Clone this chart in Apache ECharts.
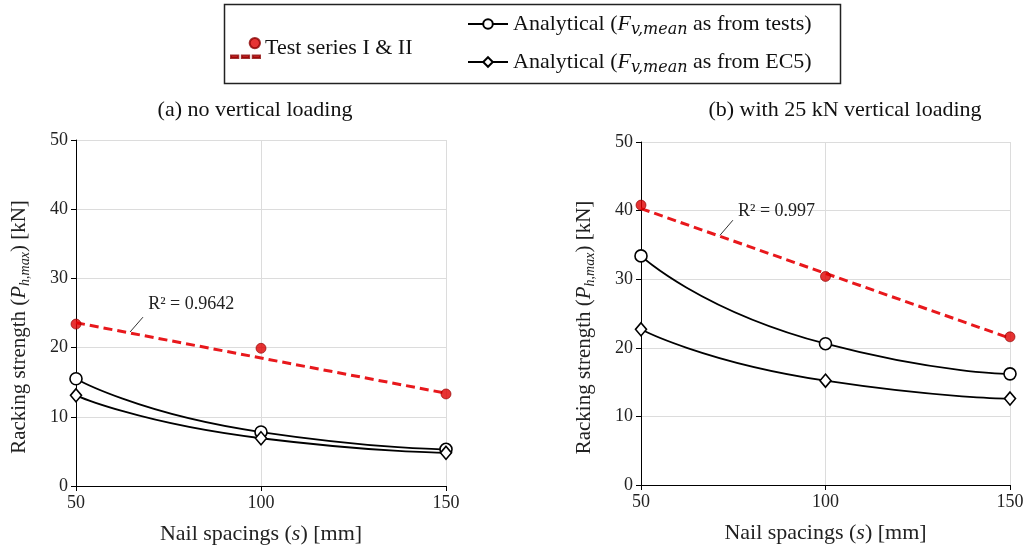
<!DOCTYPE html>
<html><head><meta charset="utf-8">
<script src="https://cdn.jsdelivr.net/npm/echarts@6/dist/echarts.min.js"></script>
<style>html,body{margin:0;padding:0;background:#fff}#c{width:1028px;height:550px}</style>
</head><body><div id="c"></div>
<script>
// ---- data ----
const spacings = [50, 100, 150];
const trendX = [50, 150];
const testA = [23.4, 19.9, 13.3];
const trendA = [23.6, 13.4];
const analyticTestsA = [15.5, 7.8, 5.3];
const analyticEC5A = [13.1, 6.9, 4.8];
const testB = [40.8, 30.4, 21.6];
const trendB = [40.3, 21.4];
const analyticTestsB = [33.4, 20.6, 16.2];
const analyticEC5B = [22.7, 15.2, 12.6];
const r2Labels = ['R\u00B2 = 0.9642', 'R\u00B2 = 0.997'];
const r2Anchor = [[69.5, 26.2], [76.3, 39.9]];
const r2Leader = [[[64.6, 22.25], [68.1, 24.4]], [[71.4, 36.4], [74.9, 38.6]]];
const titles = ['(a) no vertical loading', '(b) with 25 kN vertical loading'];
const xName = 'Nail spacings ({i|s}) [mm]';
const yName = 'Racking strength ({i|P}{s|h,max}) [kN]';
const nameTest = 'Test series I & II';
const nameAT = 'Analytical (Fv,mean as from tests)';
const nameAE = 'Analytical (Fv,mean as from EC5)';

const FF = "'Liberation Serif','Times New Roman',serif";
const pairs = (xs, ys) => xs.map((x, i) => [x, ys[i]]);

const grids = [
  {left: 76, top: 140, width: 370, height: 346},
  {left: 641, top: 142, width: 369, height: 343}
];
const richX = {
  i: {fontStyle: 'italic', fontSize: 22, fontFamily: FF, color: '#222'}
};
const richY = {
  i: {fontStyle: 'italic', fontSize: 21, fontFamily: FF, color: '#222', lineHeight: 26},
  s: {fontStyle: 'italic', fontSize: 14, fontFamily: FF, color: '#222', verticalAlign: 'bottom', lineHeight: 14}
};
function xAxis(i) {
  return {
    type: 'value', gridIndex: i, min: 50, max: 150, interval: 50,
    name: xName, nameLocation: 'middle', nameGap: 37,
    nameTextStyle: {fontFamily: FF, fontSize: 22, color: '#222', rich: richX},
    axisLine: {lineStyle: {color: '#000', width: 1}},
    axisTick: {show: true, length: 5, lineStyle: {color: '#000'}},
    axisLabel: {fontFamily: FF, fontSize: 18, color: '#222', margin: 8},
    splitLine: {show: true, lineStyle: {color: '#dcdcdc', width: 1}}
  };
}
function yAxis(i) {
  return {
    type: 'value', gridIndex: i, min: 0, max: 50, interval: 10,
    name: yName, nameLocation: 'middle', nameGap: 44, nameRotate: 90,
    nameTextStyle: {fontFamily: FF, fontSize: 21, color: '#222', rich: richY, lineHeight: 26,
      padding: [0, 28, 0, 0]},
    axisLine: {show: true, lineStyle: {color: '#000', width: 1}},
    axisTick: {show: true, length: 5, lineStyle: {color: '#000'}},
    axisLabel: {fontFamily: FF, fontSize: 18, color: '#222', margin: 8},
    splitLine: {show: true, lineStyle: {color: '#dcdcdc', width: 1}}
  };
}
function panelSeries(i, test, trend, at, ae) {
  return [
    {
      name: 'trend' + i, type: 'line', xAxisIndex: i, yAxisIndex: i,
      data: pairs(trendX, trend), symbol: 'none', z: 3,
      lineStyle: {color: '#e8181c', width: 3, type: [9, 5]},
      markLine: {
        silent: true, symbol: ['none', 'none'],
        lineStyle: {color: '#333', width: 1, type: 'solid'},
        label: {show: false},
        data: [[{coord: r2Leader[i][0]}, {coord: r2Leader[i][1]}]]
      },
      markPoint: {
        silent: true, symbol: 'circle', symbolSize: 0,
        label: {show: true, position: 'right', distance: 0, formatter: r2Labels[i],
          fontFamily: FF, fontSize: 18, color: '#222'},
        data: [{coord: r2Anchor[i]}]
      }
    },
    {
      name: nameTest, type: 'scatter', xAxisIndex: i, yAxisIndex: i,
      data: pairs(spacings, test), symbol: 'circle', symbolSize: 10, z: 5,
      itemStyle: {color: '#e00000', borderColor: '#8a0000', borderWidth: 0.8}
    },
    {
      name: nameAT, type: 'line', xAxisIndex: i, yAxisIndex: i,
      data: pairs(spacings, at), smooth: 0.65, symbol: 'circle', symbolSize: 12, z: 4,
      lineStyle: {color: '#000', width: 1.8},
      itemStyle: {color: '#fff', borderColor: '#000', borderWidth: 1.6}
    },
    {
      name: nameAE, type: 'line', xAxisIndex: i, yAxisIndex: i,
      data: pairs(spacings, ae), smooth: 0.65, symbol: 'diamond', symbolSize: [11, 13], z: 4,
      lineStyle: {color: '#000', width: 1.8},
      itemStyle: {color: '#fff', borderColor: '#000', borderWidth: 1.6}
    }
  ];
}

const legendRich = {
  i: {fontStyle: 'italic', fontSize: 22, fontFamily: FF, color: '#111', lineHeight: 28},
  s: {fontStyle: 'italic', fontSize: 16, fontFamily: "'DejaVu Serif',serif", color: '#111', verticalAlign: 'bottom', lineHeight: 16}
};
const legendFormatter = name => name.replace('Fv,mean', '{i|F}{s|v,mean}');
const testIcon = 'path://M18 5A5 5 0 1 1 28 5A5 5 0 1 1 18 5Z M0 17h7v2.5h-7Z M10.5 17h7v2.5h-7Z M21 17h7v2.5h-7Z';

const chart = echarts.init(document.getElementById('c'), null, {renderer: 'canvas'});
chart.setOption({
  animation: false,
  backgroundColor: '#fff',
  title: [
    {text: titles[0], left: 250, top: 94, textAlign: 'center',
     textStyle: {fontFamily: FF, fontSize: 22, fontWeight: 'normal', color: '#111'}},
    {text: titles[1], left: 840, top: 94, textAlign: 'center',
     textStyle: {fontFamily: FF, fontSize: 22, fontWeight: 'normal', color: '#111'}}
  ],
  graphic: [
    {type: 'rect', left: 222, top: 2, shape: {width: 616, height: 79},
     style: {fill: 'none', stroke: '#222', lineWidth: 1.5}, silent: true}
  ],
  legend: [
    {
      data: [{name: nameTest, icon: testIcon}],
      left: 225, top: 29, itemWidth: 29, itemHeight: 23, itemGap: 8,
      selectedMode: false,
      textStyle: {fontFamily: FF, fontSize: 22, color: '#111', lineHeight: 28}
    },
    {
      data: [nameAT, nameAE],
      orient: 'vertical', left: 462, top: 5, itemWidth: 40, itemHeight: 12, itemGap: 10,
      selectedMode: false, formatter: legendFormatter,
      textStyle: {fontFamily: FF, fontSize: 22, color: '#111', lineHeight: 28, rich: legendRich}
    }
  ],
  grid: grids,
  xAxis: [xAxis(0), xAxis(1)],
  yAxis: [yAxis(0), yAxis(1)],
  series: [
    ...panelSeries(0, testA, trendA, analyticTestsA, analyticEC5A),
    ...panelSeries(1, testB, trendB, analyticTestsB, analyticEC5B)
  ]
});
</script></body></html>
